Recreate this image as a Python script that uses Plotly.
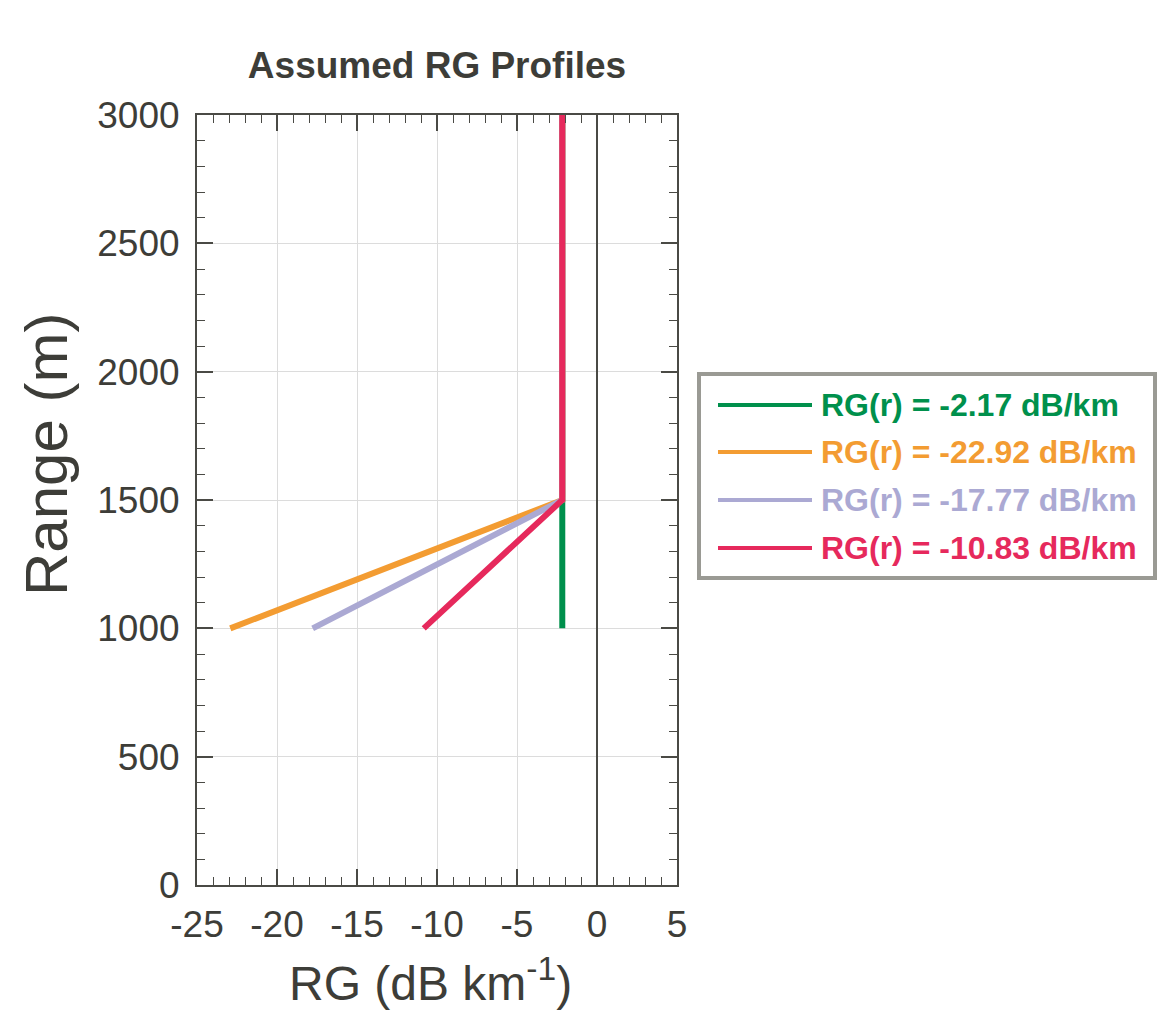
import plotly.graph_objects as go

# ---- data ----
series_names = ["RG(r) = -2.17 dB/km", "RG(r) = -22.92 dB/km",
                "RG(r) = -17.77 dB/km", "RG(r) = -10.83 dB/km"]
rg_surface = [-2.17, -22.92, -17.77, -10.83]   # RG value at 1000 m
rg_aloft = -2.17                               # RG value from 1500 m upward
range_m = [1000, 1500, 3000]
colors = ["#00904C", "#F39C32", "#ABA9D3", "#E6295C"]

x_ticks = [-25, -20, -15, -10, -5, 0, 5]
x_tick_labels = ["-25", "-20", "-15", "-10", "-5", "0", "5"]
y_ticks = [0, 500, 1000, 1500, 2000, 2500, 3000]
y_tick_labels = ["0", "500", "1000", "1500", "2000", "2500", "3000"]

TXT = "#3d3d38"
AX = "#4a4a45"
FONT = "Liberation Sans, Arial, sans-serif"

fig = go.Figure()
for name, x0, c in zip(series_names, rg_surface, colors):
    fig.add_trace(go.Scatter(
        x=[x0, rg_aloft, rg_aloft], y=range_m, mode="lines", name=name,
        line=dict(color=c, width=6), showlegend=False))

axis_common = dict(
    showline=True, linecolor=AX, linewidth=2, mirror="allticks",
    ticks="inside", ticklen=16, tickwidth=1.5, tickcolor=AX,
    showgrid=True, gridcolor="#dcdcdc", gridwidth=1,
    tickfont=dict(family=FONT, size=37, color=TXT),
)

fig.update_xaxes(
    range=[-25, 5], tickvals=x_ticks, ticktext=x_tick_labels,
    zeroline=True, zerolinecolor=AX, zerolinewidth=1.5,
    minor=dict(dtick=1, ticks="inside", ticklen=8, tickcolor=AX, tickwidth=1.2, showgrid=False),
    ticklabelstandoff=6,
    **axis_common)
fig.update_yaxes(
    range=[0, 3000], tickvals=y_ticks, ticktext=y_tick_labels, zeroline=False,
    minor=dict(dtick=100, ticks="inside", ticklen=8, tickcolor=AX, tickwidth=1.2, showgrid=False),
    ticklabelstandoff=8,
    **axis_common)

# ---- paper-coordinate helpers (plot area: x 197..677 px, y 115..885 px) ----
def px_x(p):
    return (p - 197) / 480.0

def px_y(p):
    return (885 - p) / 770.0

annotations = [
    dict(xref="paper", yref="paper", x=px_x(430), y=px_y(980), xanchor="center", yanchor="middle",
         showarrow=False, text="RG (dB km<sup>-1</sup>)", font=dict(family=FONT, size=48, color=TXT)),
    dict(xref="paper", yref="paper", x=px_x(46), y=px_y(455), xanchor="center", yanchor="middle",
         showarrow=False, textangle=-90, text="Range (m)", font=dict(family=FONT, size=60, color=TXT)),
]

# ---- manual legend ----
shapes = [dict(type="rect", xref="paper", yref="paper",
               x0=px_x(699), x1=px_x(1155), y0=px_y(578), y1=px_y(374),
               line=dict(color="#9a9a94", width=4), fillcolor="white", layer="above")]
row_y = [405, 452, 500, 548]
for name, c, ry in zip(series_names, colors, row_y):
    shapes.append(dict(type="line", xref="paper", yref="paper",
                       x0=px_x(718), x1=px_x(812), y0=px_y(ry), y1=px_y(ry),
                       line=dict(color=c, width=4), layer="above"))
    annotations.append(dict(xref="paper", yref="paper", x=px_x(819), y=px_y(ry),
                            xanchor="left", yanchor="middle", showarrow=False,
                            text="<b>" + name + "</b>",
                            font=dict(family=FONT, size=32, color=c)))

fig.update_layout(
    width=1168, height=1014,
    margin=dict(l=197, r=491, t=115, b=129),
    paper_bgcolor="white", plot_bgcolor="white",
    title=dict(text="<b>Assumed RG Profiles</b>", x=0.5, xref="paper", xanchor="center",
               y=1 - 65 / 1014, yanchor="middle", yref="container",
               font=dict(family=FONT, size=37, color=TXT)),
    shapes=shapes, annotations=annotations, showlegend=False,
)

fig.write_html("out.html")
